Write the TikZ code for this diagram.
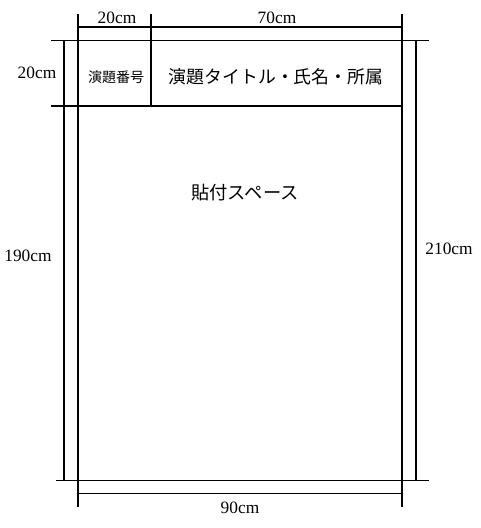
\documentclass[tikz,border=0pt]{standalone}
\usepackage{fontspec}
\setmainfont{Liberation Serif}
\newfontfamily\cjk{Noto Sans CJK JP}
\begin{document}
\begin{tikzpicture}[x=0.75pt,y=-0.75pt,
  ln/.style={line width=1pt,black},
  lat/.style={font=\fontsize{13}{15}\selectfont, inner sep=0pt},
  jp/.style={font=\cjk\fontsize{#1}{#1}\selectfont, inner sep=0pt}]
\useasboundingbox (0,0) rectangle (480,528);
% box outline and header
\draw[ln] (51,40.7) -- (429,40.7);
\draw[ln] (51,106) -- (402,106);
\draw[ln] (56,480.7) -- (429,480.7);
\draw[ln] (78,14) -- (78,507);
\draw[ln] (402,14) -- (402,507);
\draw[ln] (151,14) -- (151,106);
% dimension lines
\draw[ln] (78,27) -- (402,27);
\draw[ln] (64,40.7) -- (64,480.7);
\draw[ln] (416,40.7) -- (416,480.7);
\draw[ln] (78,493.3) -- (402,493.3);
% labels
\node[lat] (d20a) at (117,18) {20cm};
\node[lat] (d70) at (277,18) {70cm};
\node[lat] (d20b) at (37,73) {20cm};
\node[lat] (d190) at (28,255.5) {190cm};
\node[lat] (d210) at (449,249) {210cm};
\node[lat] (d90) at (240,508) {90cm};
\node[jp=10.5] (num) at (116,77) {演題番号};
\node[jp=13.4] (title) at (276,77) {演題タイトル・氏名・所属};
\node[jp=13.7] (space) at (245,193) {貼付スペース};
\end{tikzpicture}
\end{document}
